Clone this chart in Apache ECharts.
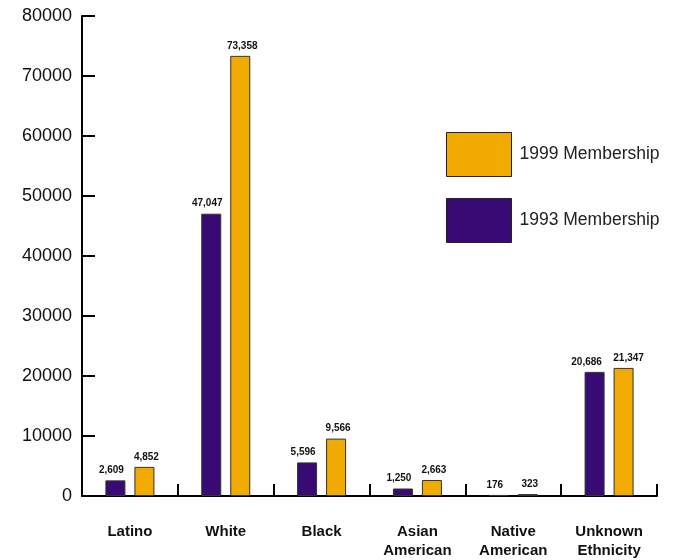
<!DOCTYPE html>
<html>
<head>
<meta charset="utf-8">
<script src="https://cdn.jsdelivr.net/npm/echarts@6/dist/echarts.min.js"></script>
<style>
  html, body { margin: 0; padding: 0; background: #fff; }
  #chart { width: 674px; height: 560px; }
</style>
</head>
<body>
<div id="chart"></div>
<script>
// Membership by ethnicity, 1993 vs 1999
const categories = ['Latino', 'White', 'Black', 'Asian\nAmerican', 'Native\nAmerican', 'Unknown\nEthnicity'];
const membership1993 = [2609, 47047, 5596, 1250, 176, 20686];
const membership1999 = [4852, 73358, 9566, 2663, 323, 21347];
const yTicks = [0, 10000, 20000, 30000, 40000, 50000, 60000, 70000, 80000];

const fontFamily = '"Liberation Sans", Arial, Helvetica, sans-serif';
const purple = '#3a0a74';
const gold = '#f0aa00';

const numFmt = v => v.toLocaleString('en-US');

function barLabel(dx) {
  return {
    show: true,
    position: 'top',
    distance: 5,
    offset: [dx, 0],
    fontFamily: fontFamily,
    fontSize: 10,
    fontWeight: 'bold',
    color: '#111',
    formatter: p => numFmt(p.value)
  };
}

// the two value labels above the "Unknown" pair are pushed apart so they don't collide
function withLabelShift(values, lastShift) {
  return values.map((v, i) =>
    i === values.length - 1 ? { value: v, label: { offset: [lastShift, 0] } } : v
  );
}

const chart = echarts.init(document.getElementById('chart'), null, { renderer: 'canvas' });
chart.setOption({
  animation: false,
  backgroundColor: '#fff',
  textStyle: { fontFamily: fontFamily },
  grid: { left: 82, right: 17, top: 16, bottom: 61, containLabel: false },
  legend: {
    orient: 'vertical',
    left: 441,
    top: 127,
    itemWidth: 65,
    itemHeight: 44,
    itemGap: 21,
    icon: 'rect',
    data: ['1999 Membership', '1993 Membership'],
    textStyle: { fontFamily: fontFamily, fontSize: 17.5, color: '#222', padding: [0, 0, 0, 3] },
    itemStyle: { borderColor: '#222', borderWidth: 1 }
  },
  xAxis: {
    type: 'category',
    data: categories,
    axisLine: { lineStyle: { color: '#000', width: 2 } },
    axisTick: { show: true, inside: true, length: 12, lineStyle: { color: '#000', width: 2 } },
    axisLabel: {
      margin: 26,
      fontFamily: fontFamily,
      fontSize: 15,
      fontWeight: 'bold',
      color: '#111',
      lineHeight: 19,
      interval: 0
    }
  },
  yAxis: {
    type: 'value',
    min: yTicks[0],
    max: yTicks[yTicks.length - 1],
    interval: yTicks[1] - yTicks[0],
    axisLine: { show: true, lineStyle: { color: '#000', width: 2 } },
    axisTick: { show: true, inside: true, length: 13, lineStyle: { color: '#000', width: 2 } },
    splitLine: { show: false },
    axisLabel: {
      margin: 10,
      padding: [10, 0, 0, 0],
      fontFamily: fontFamily,
      fontSize: 18,
      color: '#111',
      formatter: v => String(v)
    }
  },
  series: [
    {
      name: '1993 Membership',
      type: 'bar',
      data: withLabelShift(membership1993, -8),
      barWidth: 20,
      barGap: '45%',
      itemStyle: { color: purple, borderColor: '#333', borderWidth: 1 },
      label: barLabel(-4)
    },
    {
      name: '1999 Membership',
      type: 'bar',
      data: withLabelShift(membership1999, 5),
      barWidth: 20,
      itemStyle: { color: gold, borderColor: '#333', borderWidth: 1 },
      label: barLabel(2)
    }
  ]
});
</script>
</body>
</html>
